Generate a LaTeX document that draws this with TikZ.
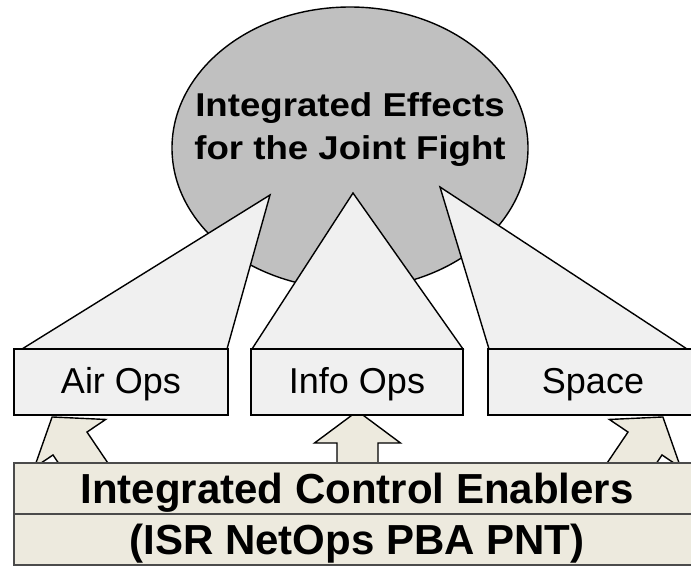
\documentclass[tikz,border=0pt]{standalone}
\usepackage{fontspec}
\setmainfont{Liberation Sans}
\usepackage{graphicx}
\usetikzlibrary{shapes.geometric}
\definecolor{ellgray}{RGB}{192,192,192}
\definecolor{lightfill}{RGB}{240,240,240}
\definecolor{cream}{RGB}{237,234,222}
\definecolor{edgegray}{RGB}{75,75,75}
\begin{document}
\begin{tikzpicture}[x=1pt,y=-1pt,
  wedge/.style={fill=lightfill,draw=black,line width=1.4pt,line join=miter},
  opsbox/.style={draw=black,fill=lightfill,line width=2.4pt,minimum height=66pt,
     inner sep=0pt,text height=22pt,text depth=0pt,
     font=\fontsize{36}{40}\selectfont},
  enabler/.style={draw=edgegray,fill=cream,line width=1.4pt,minimum width=686pt,
     minimum height=51pt,inner sep=0pt,text height=29pt,text depth=0pt,
     font=\fontsize{42}{46}\selectfont\bfseries},
  efftext/.style={anchor=base,inner sep=0pt,font=\fontsize{33}{43}\selectfont\bfseries},
  blockarr/.pic={\filldraw[fill=cream,draw=black,line width=1.4pt,line join=miter]
     (0,-32) -- (43,0) -- (20.5,0) -- (20.5,48) -- (-20.5,48) -- (-20.5,0) -- (-43,0) -- cycle;}
]
\path[use as bounding box,clip] (0,0) rectangle (691,566);

% goal ellipse
\node[ellipse,draw=black,fill=ellgray,line width=1.4pt,minimum width=356pt,
      minimum height=282pt,inner sep=0pt] (goal) at (350,148) {};
\node[efftext] (eff1) at (350,116.5) {\scalebox{1.11}[1]{Integrated Effects}};
\node[efftext] (eff2) at (350,159.5) {\scalebox{1.11}[1]{for the Joint Fight}};

% wedges
\coordinate (la) at (270,195); \coordinate (lb) at (22,349); \coordinate (lc) at (227,349);
\coordinate (ma) at (353,193); \coordinate (mb) at (252,349); \coordinate (mc) at (463,349);
\coordinate (ra) at (440,187); \coordinate (rb) at (489,349); \coordinate (rc) at (687,349);
\filldraw[wedge] (la) -- (lb) -- (lc) -- cycle;
\filldraw[wedge] (ma) -- (mb) -- (mc) -- cycle;
\filldraw[wedge] (ra) -- (rb) -- (rc) -- cycle;

% block arrows
\pic[rotate=34] at (70,443.5) {blockarr};
\pic at (357.5,443) {blockarr};
\pic[rotate=-34] at (645,443.5) {blockarr};

% ops boxes
\node[opsbox,minimum width=214pt] (air) at (121,382) {Air Ops};
\node[opsbox,minimum width=212pt] (info) at (357,382) {Info Ops};
\node[opsbox,minimum width=210pt] (space) at (593,382) {Space};

% enablers
\node[enabler] (ice) at (357,488.5) {Integrated Control Enablers};
\node[enabler] (isr) at (357,539.5) {(ISR NetOps PBA PNT)};
\end{tikzpicture}
\end{document}
